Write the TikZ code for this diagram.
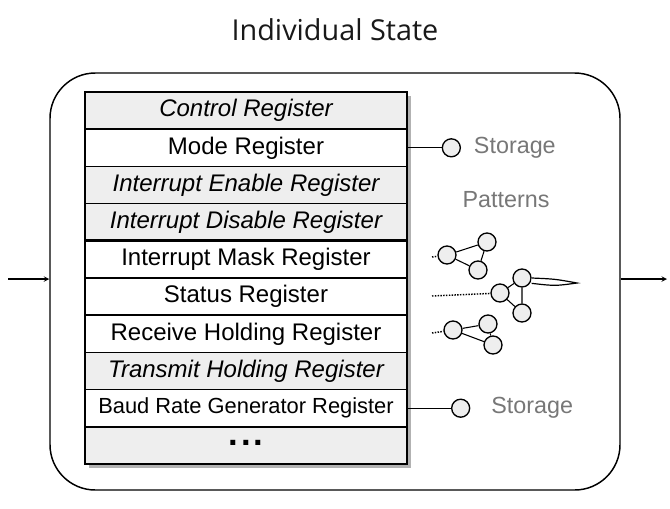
\documentclass[tikz,border=0pt]{standalone}
\usepackage{fontspec}
\setmainfont{Liberation Sans}
\newfontfamily\titlefont{Open Sans}
\usetikzlibrary{positioning}
\definecolor{regfill}{HTML}{EEEEEE}
\definecolor{lblgray}{HTML}{777777}
\tikzset{
  reg/.style={draw,line width=1.2pt,fill=white,minimum width=241.5pt,minimum height=27.9pt,inner sep=0pt,outer sep=0pt,font=\fontsize{18}{20}\selectfont},
  ireg/.style={reg,fill=regfill,font=\fontsize{18}{20}\selectfont\itshape},
  dot/.style={circle,draw,fill=regfill,line width=1pt,minimum size=13.5pt,inner sep=0pt},
  lbl/.style={text=lblgray,font=\fontsize{17.5}{20}\selectfont},
}
\begin{document}
\begin{tikzpicture}[x=0.75pt,y=-0.75pt,>=stealth,thick]
	\useasboundingbox (0,0) rectangle (670,508);
	\node[font=\titlefont\fontsize{21.6}{24}\selectfont,text=black!90] (title) at (335,30) {Individual State};
	\node[draw,line width=1.1pt,rounded corners=34pt,minimum width=427.5pt,minimum height=312.75pt] (state) at (335,281.5) {};
	\coordinate (in) at (8,279);
	\coordinate (out) at (667,279);
	\draw[->] (in) -- (in -| state.west);
	\draw[->] (out -| state.east) -- (out);
	% register table
	\fill[black!30] (89,96) rectangle (411,468);
	\node[ireg] (ctrl) at (246,110.6) {Control Register};
	\node[reg,below=0pt of ctrl] (mode) {Mode Register};
	\node[ireg,below=0pt of mode] (ier) {Interrupt Enable Register};
	\node[ireg,below=0pt of ier] (idr) {Interrupt Disable Register};
	\node[reg,below=0pt of idr] (imr) {Interrupt Mask Register};
	\node[reg,below=0pt of imr] (sr) {Status Register};
	\node[reg,below=0pt of sr] (rhr) {Receive Holding Register};
	\node[ireg,below=0pt of rhr] (thr) {Transmit Holding Register};
	\node[reg,below=0pt of thr,font=\fontsize{16.4}{20}\selectfont] (brgr) {Baud Rate Generator Register};
	\node[reg,fill=regfill,below=0pt of brgr,font=\fontsize{26}{28}\selectfont\bfseries] (more) {\raisebox{3pt}{.\kern2pt.\kern2pt.}};
	\draw[line width=1.6pt] (ctrl.north west) rectangle (more.south east);
	\draw[line width=2pt] (idr.south west) -- (idr.south east);
	% storage
	\node[dot,right=26pt of mode] (st1) {};
	\node[dot,right=33pt of brgr] (st2) {};
	\draw (mode.east) -- (st1);
	\draw (brgr.east) -- (st2);
	\node[lbl,right=6pt of st1] (st1lbl) {Storage};
	\node[lbl,right=12pt of st2] (st2lbl) {Storage};
	\node[lbl] (patlbl) at (506,200) {Patterns};
	% patterns
	\node[dot] (p1a) at (447,255) {};
	\node[dot] (p1b) at (487,242) {};
	\node[dot] (p1c) at (478,270) {};
	\node[dot] (p2a) at (500,293) {};
	\node[dot] (p2b) at (522,278) {};
	\node[dot] (p2c) at (522,313) {};
	\node[dot] (p3a) at (453,330) {};
	\node[dot] (p3b) at (488,324) {};
	\node[dot] (p3c) at (493,345) {};
	\draw (p1a) -- (p1b) -- (p1c) -- (p1a);
	\draw (p2a) -- (p2b) -- (p2c) -- (p2a);
	\draw (p3a) -- (p3b) -- (p3c) -- (p3a);
	\coordinate (tip) at (577,283);
	\draw[line width=0.9pt,fill=white] (p2b.east) .. controls (555,279) .. (tip) .. controls (555,286) .. ([yshift=-4pt]p2b.east);
	\coordinate (d1) at (432,257);
	\coordinate (d2) at (432,296);
	\coordinate (d3) at (432,333);
	\draw[densely dotted,line width=1.1pt] (d1) -- (p1a);
	\draw[densely dotted,line width=1.1pt] (d2) -- (p2a);
	\draw[densely dotted,line width=1.1pt] (d3) -- (p3a);
\end{tikzpicture}
\end{document}
